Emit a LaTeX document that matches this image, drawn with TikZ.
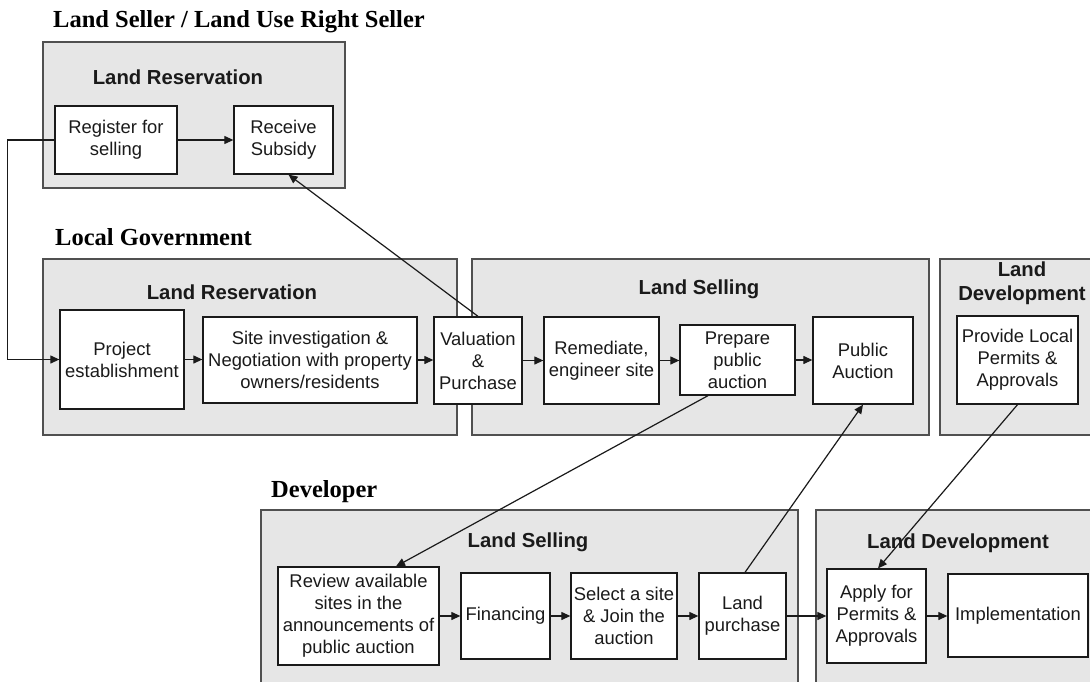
\documentclass[tikz,border=0pt]{standalone}
\usepackage{fontspec}
\setmainfont{Liberation Sans}
\newfontfamily\titleserif{Liberation Serif}
\usetikzlibrary{arrows.meta}
\definecolor{panelfill}{HTML}{E6E6E6}
\definecolor{paneldraw}{HTML}{505050}
\definecolor{ink}{HTML}{1A1A1A}
\tikzset{
  panel/.style={fill=panelfill, draw=paneldraw, line width=1.8pt},
  stepbox/.style={draw=ink, fill=white, line width=1.3pt, align=center, inner sep=1pt,
    font=\fontsize{18.4}{22}\selectfont, text=ink},
  paneltitle/.style={font=\fontsize{20.3}{24}\selectfont\bfseries, text=ink, align=center},
  roletitle/.style={font=\titleserif\fontsize{24.5}{27}\selectfont\bfseries, anchor=base west, inner sep=0pt},
  arr/.style={draw=ink, line width=1.2pt, -{Triangle[length=9pt,width=8pt]}},
}
\begin{document}
\begin{tikzpicture}[x=1pt,y=-1pt]
\clip (0,0) rectangle (1090,682);
\fill[white] (0,0) rectangle (1090,682);
% panels
\draw[panel] (43,42) rectangle (345,188);
\draw[panel] (43,259) rectangle (457,435);
\draw[panel] (472,259) rectangle (929,435);
\draw[panel] (940,259) rectangle (1100,435);
\draw[panel] (261,510) rectangle (798,700);
\draw[panel] (816,510) rectangle (1100,700);
% role titles
\node[roletitle] (r1) at (53,28) {Land Seller / Land Use Right Seller};
\node[roletitle] (r2) at (55,245) {Local Government};
\node[roletitle] (r3) at (271,497) {Developer};
% panel titles
\node[paneltitle] (tA) at (178,77) {Land Reservation};
\node[paneltitle] (tB) at (232,292) {Land Reservation};
\node[paneltitle] (tC) at (699,289) {Land Selling};
\node[paneltitle] (tD) at (1022,283) {Land\\Development};
\node[paneltitle] (tE) at (528,542) {Land Selling};
\node[paneltitle] (tF) at (958,543) {Land Development};
% boxes
\node[stepbox, minimum width=122, minimum height=68] (reg) at (116,140) {Register for\\selling};
\node[stepbox, minimum width=99, minimum height=68] (rec) at (283.5,140) {Receive\\Subsidy};
\node[stepbox, minimum width=124, minimum height=99] (proj) at (122,359.5) {Project\\establishment};
\node[stepbox, minimum width=214, minimum height=86] (site) at (310,360) {Site investigation \&\\Negotiation with property\\owners/residents};
\node[stepbox, minimum width=88, minimum height=87] (val) at (478,360.5) {Valuation\\\&\\Purchase};
\node[stepbox, minimum width=115, minimum height=87] (rem) at (601.5,360.5) {Remediate,\\engineer site};
\node[stepbox, minimum width=115, minimum height=70] (prep) at (737.5,360) {Prepare\\public\\auction};
\node[stepbox, minimum width=100, minimum height=87] (pub) at (863,360.5) {Public\\Auction};
\node[stepbox, minimum width=121, minimum height=88] (prov) at (1017.5,360) {Provide Local\\Permits \&\\Approvals};
\node[stepbox, minimum width=161, minimum height=98] (rev) at (358.5,616) {Review available\\sites in the\\announcements of\\public auction};
\node[stepbox, minimum width=89, minimum height=86] (fin) at (505.5,616) {Financing};
\node[stepbox, minimum width=106, minimum height=86] (sel) at (624,616) {Select a site\\\& Join the\\auction};
\node[stepbox, minimum width=87, minimum height=86] (lp) at (742.5,616) {Land\\purchase};
\node[stepbox, minimum width=99, minimum height=94] (app) at (876.5,616) {Apply for\\Permits \&\\Approvals};
\node[stepbox, minimum width=140, minimum height=83] (imp) at (1018,615.5) {Implementation};
% connectors
\draw[arr] (reg.east) -- (rec.west);
\draw[arr] (reg.west) -- ++(-47,0) |- (proj.west);
\draw[arr] (proj.east) -- (proj.east -| site.west);
\draw[arr] (site.east) -- (site.east -| val.west);
\draw[arr] (val.east) -- (val.east -| rem.west);
\draw[arr] (rem.east) -- (rem.east -| prep.west);
\draw[arr] (prep.east) -- (prep.east -| pub.west);
\draw[arr] (val.north) -- ([xshift=5]rec.south);
\draw[arr] ([xshift=-29.5]prep.south) -- ([xshift=37.5]rev.north);
\draw[arr] ([xshift=2.5]lp.north) -- (pub.south);
\draw[arr] (prov.south) -- ([xshift=1.5]app.north);
\draw[arr] (rev.east) -- (rev.east -| fin.west);
\draw[arr] (fin.east) -- (fin.east -| sel.west);
\draw[arr] (sel.east) -- (sel.east -| lp.west);
\draw[arr] (lp.east) -- (lp.east -| app.west);
\draw[arr] (app.east) -- (app.east -| imp.west);
\end{tikzpicture}
\end{document}
